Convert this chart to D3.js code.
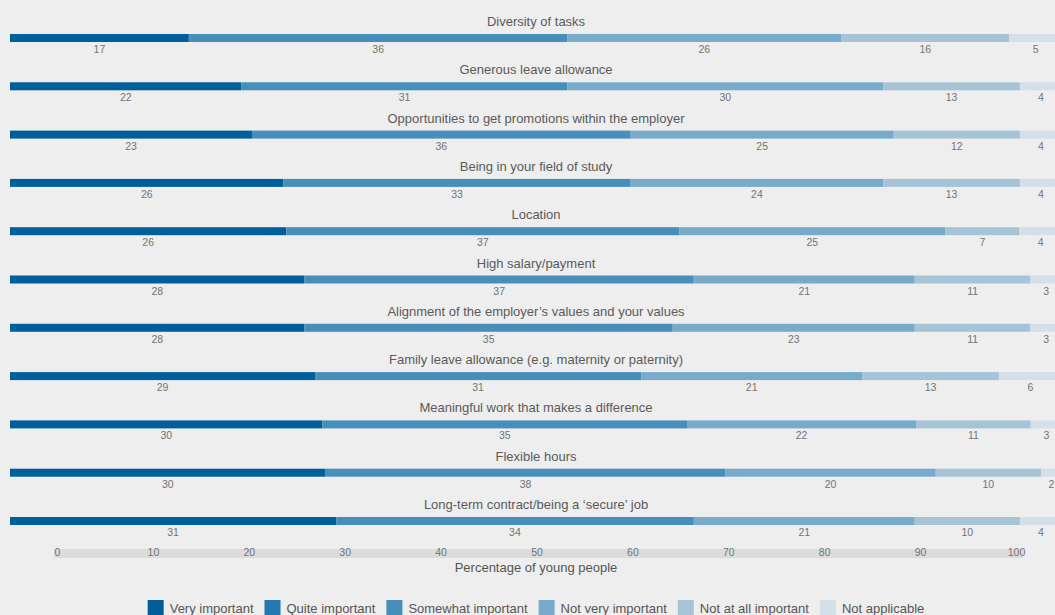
<!DOCTYPE html>
<html>
<head>
<meta charset="utf-8">
<script src="https://cdn.jsdelivr.net/npm/d3@7"></script>
<style>
  html, body { margin: 0; padding: 0; background: #eeeeee; }
  svg { display: block; font-family: "Liberation Sans", Arial, Helvetica, sans-serif; }
</style>
</head>
<body>
<svg id="chart" width="1055" height="615"></svg>
<script>
// Job attributes rated by young people (percent of respondents)
const items = [
  "Diversity of tasks",
  "Generous leave allowance",
  "Opportunities to get promotions within the employer",
  "Being in your field of study",
  "Location",
  "High salary/payment",
  "Alignment of the employer’s values and your values",
  "Family leave allowance (e.g. maternity or paternity)",
  "Meaningful work that makes a difference",
  "Flexible hours",
  "Long-term contract/being a ‘secure’ job"
];
const veryImportant     = [17, 22, 23, 26, 26, 28, 28, 29, 30, 30, 31];
const somewhatImportant = [36, 31, 36, 33, 37, 37, 35, 31, 35, 38, 34];
const notVeryImportant  = [26, 30, 25, 24, 25, 21, 23, 21, 22, 20, 21];
const notAtAllImportant = [16, 13, 12, 13,  7, 11, 11, 13, 11, 10, 10];
const notApplicable     = [ 5,  4,  4,  4,  4,  3,  3,  6,  3,  2,  4];

const legendLabels = ["Very important", "Quite important", "Somewhat important",
                      "Not very important", "Not at all important", "Not applicable"];
const legendColors = ["#005f9b", "#2479b1", "#468fbb", "#78aac9", "#a7c4d7", "#d5dfe8"];

const tickValues = [0, 10, 20, 30, 40, 50, 60, 70, 80, 90, 100];

// Series drawn in each bar, with their legend colour
const seriesKeys = ["Very important", "Somewhat important", "Not very important",
                    "Not at all important", "Not applicable"];
const seriesValues = [veryImportant, somewhatImportant, notVeryImportant, notAtAllImportant, notApplicable];

const rows = items.map((name, i) => {
  const r = { name };
  seriesKeys.forEach((k, j) => { r[k] = seriesValues[j][i]; });
  return r;
});

const svg = d3.select("#chart");

// Each bar is a full 100% row (rounded values may not sum to exactly 100)
const x = d3.scaleLinear().domain([0, 1]).range([10, 1062]);
const y = d3.scalePoint().domain(items).range([34, 517]);
const barH = 8;
const color = d3.scaleOrdinal().domain(legendLabels).range(legendColors);

const stacked = d3.stack().keys(seriesKeys).offset(d3.stackOffsetExpand)(rows);

const rowG = svg.append("g");

// Row titles
rowG.selectAll("text.title")
  .data(items)
  .join("text")
  .attr("class", "title")
  .attr("x", 536)
  .attr("y", d => y(d) - 8)
  .attr("text-anchor", "middle")
  .attr("font-size", 13)
  .attr("fill", "#5a5a5a")
  .text(d => d);

// Bars
const layers = rowG.selectAll("g.layer")
  .data(stacked)
  .join("g")
  .attr("class", "layer")
  .attr("fill", d => color(d.key));

layers.selectAll("rect")
  .data(d => d)
  .join("rect")
  .attr("x", d => x(d[0]))
  .attr("y", d => y(d.data.name))
  .attr("width", d => x(d[1]) - x(d[0]))
  .attr("height", barH);

// Value labels under each segment
layers.selectAll("text")
  .data(d => d.map(s => ({ s, key: d.key })))
  .join("text")
  .attr("x", d => (x(d.s[0]) + x(d.s[1])) / 2)
  .attr("y", d => y(d.s.data.name) + barH + 11)
  .attr("text-anchor", "middle")
  .attr("font-size", 10.5)
  .attr("fill", "#737373")
  .text(d => d.s.data[d.key]);

// Percentage axis
const xa = d3.scaleLinear().domain([0, 100]).range([57, 1016]);
svg.append("rect")
  .attr("x", 54).attr("y", 549)
  .attr("width", 969).attr("height", 9)
  .attr("fill", "#dcdcdc");

const axisG = svg.append("g").attr("transform", "translate(0,553)");
axisG.call(d3.axisBottom(xa).tickValues(tickValues).tickSize(0).tickPadding(0).tickFormat(d3.format("d")));
axisG.select(".domain").remove();
axisG.selectAll("text")
  .attr("dy", "0.33em")
  .attr("y", 0)
  .attr("font-family", "Liberation Sans, Arial, sans-serif")
  .attr("font-size", 10.5)
  .attr("fill", "#737373");

svg.append("text")
  .attr("x", 536).attr("y", 572)
  .attr("text-anchor", "middle")
  .attr("font-size", 13)
  .attr("fill", "#555")
  .text("Percentage of young people");

// Legend, centred
const legend = svg.append("g");
const entries = legend.selectAll("g")
  .data(legendLabels)
  .join("g");
entries.append("rect")
  .attr("width", 16).attr("height", 16)
  .attr("y", 600)
  .attr("fill", d => color(d));
entries.append("text")
  .attr("x", 22).attr("y", 613)
  .attr("font-size", 13)
  .attr("fill", "#555")
  .text(d => d);

let cx = 0;
const offs = [];
entries.each(function() {
  const w = this.querySelector("text").getComputedTextLength();
  offs.push(cx);
  cx += 22 + w + 11;
});
const total = cx - 11;
const start = 536 - total / 2;
entries.attr("transform", (d, i) => `translate(${start + offs[i]},0)`);
</script>
</body>
</html>
